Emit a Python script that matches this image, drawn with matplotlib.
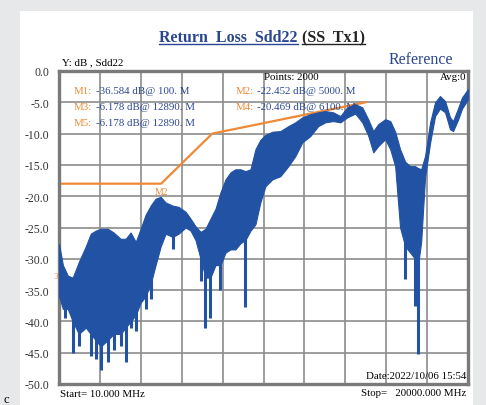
import matplotlib
matplotlib.use("Agg")
from matplotlib import pyplot as plt
from matplotlib.lines import Line2D
from matplotlib.patches import Rectangle
import numpy as np

# trace envelope (MHz, dB)
freq = [10, 200, 440, 680, 980, 1320, 1560, 1800, 2050, 2390, 2680, 3020, 3270,
        3510, 3760, 4000, 4240, 4490, 4730, 4980, 5220, 5560, 5850, 6200, 6440,
        6680, 6930, 7170, 7410, 7660, 7900, 8150, 8390, 8630, 8880, 9120, 9370,
        9610, 9850, 10100, 10440, 10830, 11220, 11560, 11900, 12290, 12680,
        13020, 13410, 13760, 14100, 14490, 14830, 15120, 15370, 15610, 15950,
        16200, 16440, 16680, 16930, 17170, 17410, 17560, 17710, 17900, 18150,
        18390, 18630, 18880, 19120, 19270, 19510, 19710, 20000]
upper = [-27.6, -31.0, -32.7, -33.0, -30.5, -28.0, -26.0, -25.5, -25.2, -25.2,
         -25.8, -26.8, -26.8, -25.8, -27.3, -25.2, -23.0, -21.5, -20.4, -20.1,
         -21.0, -21.5, -21.7, -22.5, -23.6, -24.8, -25.7, -25.2, -23.6, -22.0,
         -19.4, -17.3, -16.2, -15.7, -15.7, -16.0, -15.7, -12.5, -11.0, -10.2,
         -9.7, -9.6, -8.8, -8.2, -7.4, -6.9, -6.6, -6.4, -6.6, -7.2, -5.8, -5.3,
         -5.8, -7.7, -9.6, -8.5, -7.7, -8.0, -9.7, -12.5, -14.5, -15.2, -15.2,
         -15.5, -15.7, -13.6, -8.2, -5.0, -4.0, -4.8, -7.4, -8.0, -6.0, -4.2, -2.9]
lower = [-36.0, -38.0, -38.0, -40.0, -42.0, -41.0, -42.0, -43.0, -44.0, -43.0,
         -42.0, -42.0, -41.0, -40.0, -39.0, -37.0, -36.0, -34.0, -31.0, -28.0,
         -26.0, -26.5, -26.0, -25.0, -25.5, -27.0, -30.0, -33.0, -33.0, -31.0,
         -31.0, -29.0, -28.5, -28.5, -27.5, -27.0, -25.5, -24.5, -21.0, -18.4,
         -17.3, -16.8, -15.2, -13.6, -11.4, -10.4, -8.8, -8.2, -8.0, -8.2, -7.4,
         -6.8, -8.2, -10.3, -13.0, -12.0, -10.9, -12.5, -15.2, -25.0, -28.0,
         -29.0, -30.0, -31.0, -27.3, -17.0, -11.4, -7.2, -6.0, -6.6, -9.3, -9.6,
         -7.8, -6.0, -4.5]

# deep single-point dips
spike_freq = [300, 680, 980, 1560, 1800, 2050, 2390, 2680, 3020, 3270, 3510,
              3760, 4240, 4490, 5560, 6930, 7170, 7410, 7900, 9120, 16930,
              17410, 17560]
spike_db = [-39.5, -45.0, -44.0, -45.5, -46.0, -47.8, -46.5, -44.5, -44.0,
            -46.5, -41.0, -41.5, -38.0, -36.5, -28.5, -33.5, -41.0, -39.5,
            -35.0, -37.7, -33.2, -37.5, -45.2]

# limit line
lim_freq = [10, 5000, 7500, 15000]
lim_db = [-18, -18, -10, -5]

markers_left = [("M1:", "-36.584 dB@ 100. M"),
                ("M3:", "-6.178 dB@ 12890. M"),
                ("M5:", "-6.178 dB@ 12890. M")]
markers_right = [("M2:", "-22.452 dB@ 5000. M"),
                 ("M4:", "-20.469 dB@ 6100. M")]

yticks = [0, -5, -10, -15, -20, -25, -30, -35, -40, -45, -50]

BLUE = "#2152a3"
DBLUE = "#2a4690"
ORANGE = "#ee8a35"
GRID = "#8c8c8c"
FONT = "Liberation Serif"
FS = 7.8

W, H = 486, 406
fig = plt.figure(figsize=(W / 100, H / 100), dpi=100)
fig.patch.set_facecolor("#e7e8ea")


def px(x, y):
    return x / W, 1 - y / H


# white panel
fig.add_artist(Rectangle(px(20, 406), 453 / W, 394 / H, transform=fig.transFigure,
                         facecolor="white", edgecolor="none", zorder=0))

x0, y0 = px(59, 385)
x1, y1 = px(468, 72)
ax = fig.add_axes([x0, y0, x1 - x0, y1 - y0])
ax.set_facecolor("white")

ax.fill_between(freq, lower, upper, color=BLUE, lw=0.8, edgecolor=BLUE, zorder=3)
spike_top = np.interp(spike_freq, freq, lower) + 1.0
ax.vlines(spike_freq, spike_top, spike_db, color=BLUE, lw=2.2, zorder=3)
ax.plot(lim_freq, lim_db, color=ORANGE, lw=1.6, zorder=2)
ax.text(5000, -18.6, "M2", color=ORANGE, fontsize=7, family=FONT, ha="center", va="top", zorder=4)

ax.set_xlim(10, 20000)
ax.set_ylim(-50, 0)
ax.set_xticks([10 + i * 1999 for i in range(11)])
ax.set_yticks(yticks)
ax.set_yticklabels([f"{v:.1f}" for v in yticks], family=FONT, fontsize=8.5, color="#333333")
ax.tick_params(axis="x", length=0, labelbottom=False)
ax.tick_params(axis="y", length=0, pad=7)
ax.grid(True, color=GRID, lw=1.2, zorder=1)
ax.set_axisbelow(True)
for s in ax.spines.values():
    s.set_color("#7a7a7a")
    s.set_linewidth(2.4)

# marker readouts
for i, (lab, val) in enumerate(markers_left):
    fig.text(*px(74, 92 + 16 * i), lab, color=ORANGE, fontsize=FS, family=FONT, va="center")
    fig.text(*px(96, 92 + 16 * i), val, color=DBLUE, fontsize=FS, family=FONT, va="center")
for i, (lab, val) in enumerate(markers_right):
    fig.text(*px(236, 92 + 16 * i), lab, color=ORANGE, fontsize=FS, family=FONT, va="center")
    fig.text(*px(257, 92 + 16 * i), val, color=DBLUE, fontsize=FS, family=FONT, va="center")

fig.text(*px(264, 77), "Points: 2000", fontsize=FS, family=FONT, va="center")
fig.text(*px(466, 77), "Avg:0", fontsize=FS, family=FONT, va="center", ha="right")
fig.text(*px(62, 63), "Y: dB , Sdd22", fontsize=FS, family=FONT, va="center")
fig.text(*px(60, 395), "Start= 10.000 MHz", fontsize=FS, family=FONT, va="center")
fig.text(*px(466, 394), "Stop=   20000.000 MHz", fontsize=FS, family=FONT, va="center", ha="right")
fig.text(*px(466, 377), "Date:2022/10/06 15:54", fontsize=FS, family=FONT, va="center", ha="right")
fig.text(*px(453, 60), "Reference", color=DBLUE, fontsize=11.5, family=FONT, va="center", ha="right")
fig.text(*px(58, 277), "3", color=ORANGE, fontsize=6.5, family=FONT, va="center", ha="right")
fig.text(*px(3, 400), "c", fontsize=9, family=FONT, va="center")

# underlined title in two colours
t1 = fig.text(*px(159, 38), "Return  Loss  Sdd22", color=DBLUE, fontsize=11.5,
              family=FONT, weight="bold", va="center")
fig.canvas.draw()
r = fig.canvas.get_renderer()
bb = t1.get_window_extent(r)
t2 = fig.text(bb.x1 / W + 4 / W, 1 - 38 / H, "(SS  Tx1)", color="#222222", fontsize=11.5,
              family=FONT, weight="bold", va="center")
fig.canvas.draw()
bb2 = t2.get_window_extent(r)
uy = (bb.y0 + 1) / H
fig.add_artist(Line2D([bb.x0 / W, bb.x1 / W], [uy, uy], transform=fig.transFigure,
                      color=DBLUE, lw=1))
fig.add_artist(Line2D([bb2.x0 / W, bb2.x1 / W], [uy, uy], transform=fig.transFigure,
                      color="#222222", lw=1))

fig.savefig("out.png", dpi=100, facecolor=fig.get_facecolor())
